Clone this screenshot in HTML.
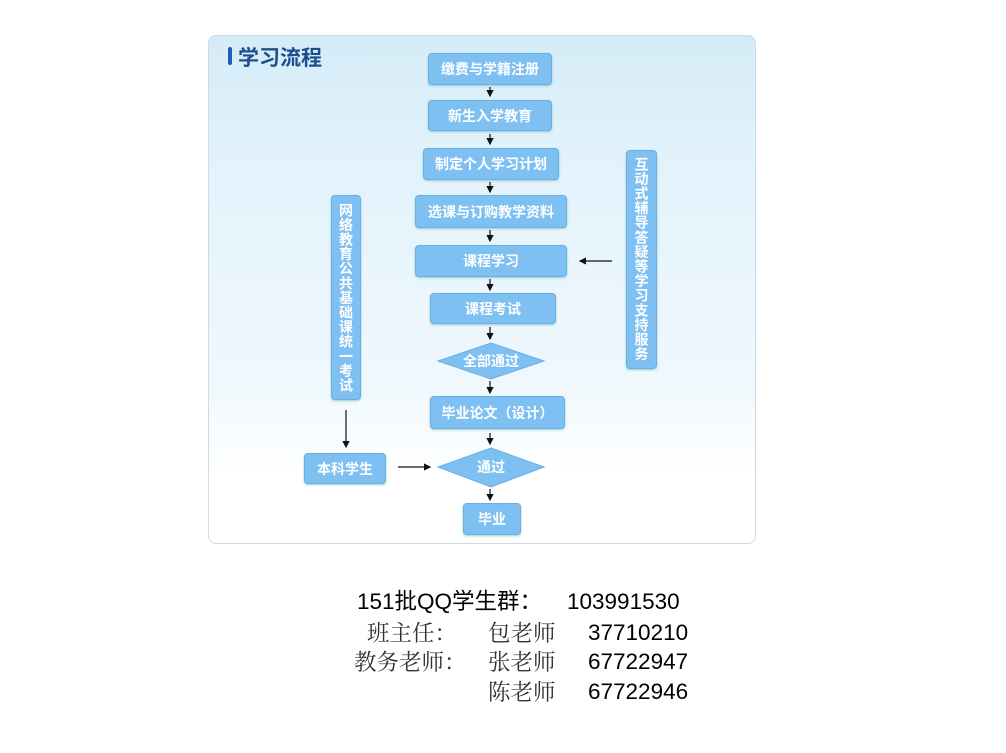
<!DOCTYPE html>
<html><head><meta charset="utf-8"><style>
body{margin:0;width:1006px;height:753px;background:#fff;position:relative;overflow:hidden;font-family:"Liberation Sans","Noto Sans CJK SC",sans-serif}
.a{position:absolute}
.panel{left:208px;top:35px;width:548px;height:509px;border:1px solid #cfdbe3;border-radius:8px;background:linear-gradient(#d4ecf8 0px,#e2f2fb 120px,#f0f8fd 350px,#fff 440px,#fff);box-sizing:border-box}
.box{position:absolute;background:#7fc0f2;border:1px solid #6aaee6;border-radius:4px;color:#fff;font-weight:bold;font-size:14px;display:flex;align-items:center;justify-content:center;box-sizing:border-box;box-shadow:0 1px 2px #9cc;font-family:"Noto Sans CJK SC",sans-serif}
.v{writing-mode:vertical-rl;letter-spacing:0.6px;font-size:14px;line-height:1}
.t{position:absolute;font-size:22.5px;line-height:1;white-space:nowrap;color:#000}
.s{font-family:"Noto Serif CJK SC",serif;color:#333}
</style></head><body>
<div class="a panel"></div>
<div class="a" style="left:228px;top:47px;width:4px;height:18px;background:#1a5fb4;border-radius:2px"></div>
<div class="a" style="left:238px;top:42px;font-size:21px;font-weight:bold;color:#1d4f8c;font-family:'Noto Sans CJK SC',sans-serif">学习流程</div>

<div class="box" style="left:428px;top:53px;width:124px;height:32px">缴费与学籍注册</div>
<div class="box" style="left:428px;top:100px;width:124px;height:31px">新生入学教育</div>
<div class="box" style="left:423px;top:148px;width:136px;height:32px">制定个人学习计划</div>
<div class="box" style="left:415px;top:195px;width:152px;height:33px">选课与订购教学资料</div>
<div class="box" style="left:415px;top:245px;width:152px;height:32px">课程学习</div>
<div class="box" style="left:430px;top:293px;width:126px;height:31px">课程考试</div>
<div class="box" style="left:430px;top:396px;width:135px;height:33px">毕业论文（设计）</div>
<div class="box" style="left:463px;top:503px;width:58px;height:32px">毕业</div>
<div class="box v" style="left:331px;top:195px;width:30px;height:205px">网络教育公共基础课统一考试</div>
<div class="box v" style="left:626px;top:150px;width:31px;height:219px">互动式辅导答疑等学习支持服务</div>
<div class="box" style="left:304px;top:453px;width:82px;height:31px">本科学生</div>

<svg class="a" style="left:0;top:0" width="1006" height="753">
<defs><marker id="m" markerWidth="6" markerHeight="6" refX="5" refY="3" orient="auto"><path d="M0,0L6,3L0,6z" fill="#111"/></marker></defs>
<polygon points="491,343 544,361 491,379 438,361" fill="#7fc0f2" stroke="#6aaee6"/>
<polygon points="491,448 544,467 491,487 438,467" fill="#7fc0f2" stroke="#6aaee6"/>
<text x="491" y="366" fill="#fff" font-size="14" font-weight="bold" text-anchor="middle" font-family="Noto Sans CJK SC,sans-serif">全部通过</text>
<text x="491" y="472" fill="#fff" font-size="14" font-weight="bold" text-anchor="middle" font-family="Noto Sans CJK SC,sans-serif">通过</text>
<g stroke="#111" stroke-width="1.2" marker-end="url(#m)">
<line x1="490" y1="87" x2="490" y2="96"/>
<line x1="490" y1="134" x2="490" y2="144"/>
<line x1="490" y1="182" x2="490" y2="192"/>
<line x1="490" y1="230" x2="490" y2="241"/>
<line x1="490" y1="279" x2="490" y2="290"/>
<line x1="490" y1="327" x2="490" y2="339"/>
<line x1="490" y1="381" x2="490" y2="393"/>
<line x1="490" y1="433" x2="490" y2="444"/>
<line x1="490" y1="489" x2="490" y2="500"/>
<line x1="346" y1="410" x2="346" y2="447"/>
<line x1="398" y1="467" x2="430" y2="467"/>
<line x1="612" y1="261" x2="580" y2="261"/>
</g></svg>

<div class="t" style="left:357px;top:591px">151批QQ学生群：</div>
<div class="t" style="left:567px;top:591px">103991530</div>
<div class="t s" style="left:367px;top:621px">班主任：</div>
<div class="t s" style="left:488px;top:621px">包老师</div>
<div class="t" style="left:588px;top:622px">37710210</div>
<div class="t s" style="left:354px;top:650px">教务老师：</div>
<div class="t s" style="left:488px;top:650px">张老师</div>
<div class="t" style="left:588px;top:651px">67722947</div>
<div class="t s" style="left:488px;top:680px">陈老师</div>
<div class="t" style="left:588px;top:681px">67722946</div>
</body></html>
